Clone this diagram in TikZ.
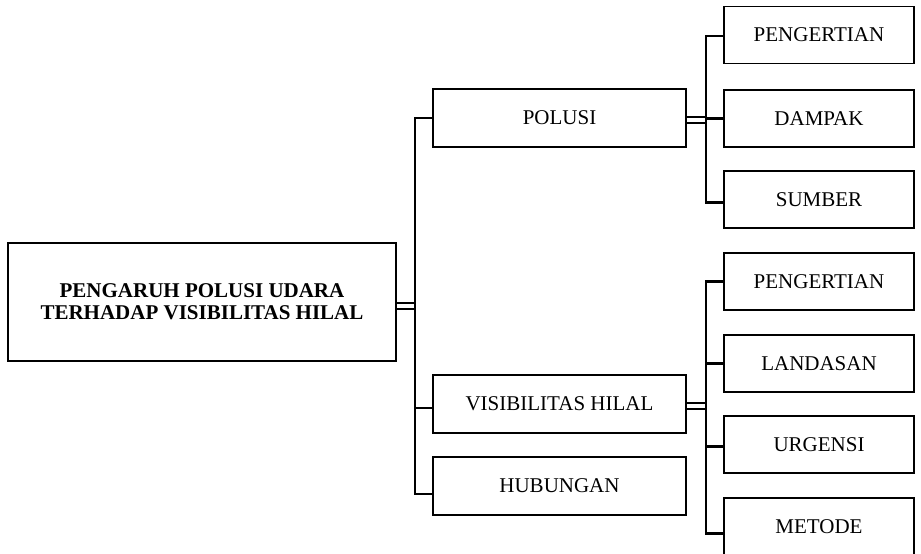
\documentclass[tikz,border=0pt]{standalone}
\usepackage{fontspec}
\setmainfont{Liberation Serif}

\begin{document}
\begin{tikzpicture}[x=1pt,y=-1pt,
    judul/.style ={rectangle, draw, line width=1.5pt, align=center, inner sep=0pt,
      font=\fontsize{21}{22}\selectfont\bfseries, minimum width=388pt, minimum height=118pt},
    cabang/.style ={rectangle, draw, line width=1.5pt, inner sep=0pt,
      font=\fontsize{21}{22}\selectfont, minimum width=253pt, minimum height=58pt},
    rincian/.style ={rectangle, draw, line width=1.5pt, inner sep=0pt,
      font=\fontsize{21}{22}\selectfont, minimum width=190pt, minimum height=57pt},
    garis/.style ={line width=2.2pt},
    ganda/.style ={double, double distance=4.5pt, line width=1.6pt}]
   \path[use as bounding box, fill=white] (0,0) rectangle (921,554);

   \node[judul] (utama) at (202,302) {PENGARUH POLUSI UDARA\\TERHADAP VISIBILITAS HILAL};

   \node[cabang] (polusi) at (559.5,118) {POLUSI};
   \node[cabang] (visib)  at (559.5,404) {VISIBILITAS HILAL};
   \node[cabang] (hubung) at (559.5,486) {HUBUNGAN};

   \node[rincian] (pengA)    at (819,35)    {PENGERTIAN};
   \node[rincian] (dampak)   at (819,118.5) {DAMPAK};
   \node[rincian] (sumber)   at (819,199.5) {SUMBER};
   \node[rincian] (pengB)    at (819,281.5) {PENGERTIAN};
   \node[rincian] (landasan) at (819,363.5) {LANDASAN};
   \node[rincian] (urgensi)  at (819,444.5) {URGENSI};
   \node[rincian] (metode)   at (819,526.5) {METODE};

   \coordinate (busA) at (415,306);
   \coordinate (busB) at (706,120);
   \coordinate (busC) at (706,406);

   % dari judul
   \draw[ganda] ([yshift=-4pt]utama.east) -- (busA);
   \draw[garis] (busA) |- (polusi.west);
   \draw[garis] (busA) |- ([yshift=-4pt]visib.west);
   \draw[garis] (busA) |- ([yshift=-8pt]hubung.west);

   % polusi
   \draw[ganda] ([yshift=-2pt]polusi.east) -- (busB);
   \draw[garis] (busB) |- ([yshift=-1pt]pengA.west);
   \draw[garis] (busB) |- (dampak.west);
   \draw[garis] (busB) |- ([yshift=-3pt]sumber.west);

   % visibilitas hilal
   \draw[ganda] ([yshift=-2pt]visib.east) -- (busC);
   \draw[garis] (busC) |- (pengB.west);
   \draw[garis] (busC) |- (landasan.west);
   \draw[garis] (busC) |- ([yshift=-2pt]urgensi.west);
   \draw[garis] (busC) |- ([yshift=-7pt]metode.west);
 \end{tikzpicture}
\end{document}
